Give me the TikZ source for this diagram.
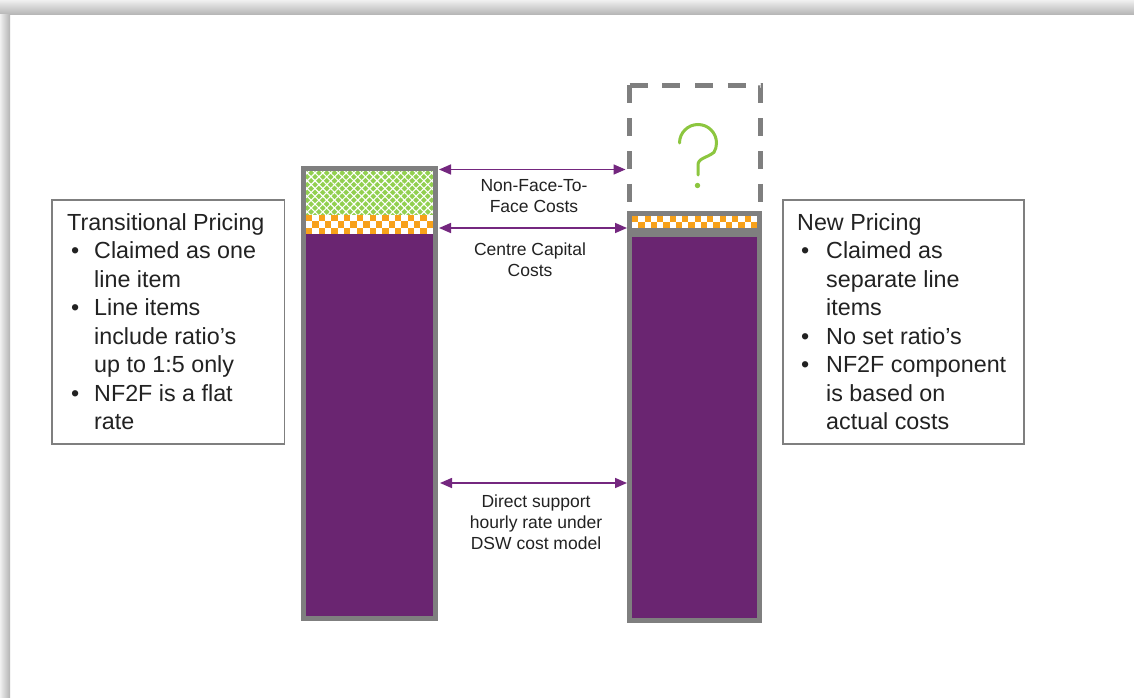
\documentclass[tikz,border=0pt]{standalone}
\usepackage{fontspec}
\setmainfont{Liberation Sans}
\usetikzlibrary{arrows.meta,patterns.meta}
\definecolor{barpurple}{HTML}{6A2571}
\definecolor{arrpurple}{HTML}{74277F}
\definecolor{bordergray}{HTML}{7F7F7F}
\definecolor{hatchgreen}{HTML}{92D050}
\definecolor{chkorange}{HTML}{F7A11A}
\definecolor{qgreen}{HTML}{8CC63F}
\definecolor{txt}{HTML}{222222}
\begin{document}
\begin{tikzpicture}[x=1pt,y=-1pt,
  bigtxt/.style={font=\fontsize{23.3}{28.5}\selectfont, text=txt, inner sep=0pt, anchor=base west},
  smalltxt/.style={font=\fontsize{17.5}{21}\selectfont, text=txt, inner sep=0pt, anchor=base},
  arr/.style={draw=arrpurple, line width=1.6pt, {Triangle[length=12pt,width=10pt]}-{Triangle[length=12pt,width=10pt]}},
  infobox/.style={draw=bordergray, line width=1.5pt},
  barborder/.style={draw=bordergray, line width=5pt},
  dashbox/.style={draw=bordergray, line width=5pt, dash pattern=on 18pt off 14.75pt},
]
\useasboundingbox (0,0) rectangle (1134,698);
\fill[white] (0,0) rectangle (1134,698);
% slide shadow
\shade[top color=gray!12, bottom color=gray!60] (0,0) rectangle (1134,15);
\shade[left color=gray!12, right color=gray!60] (0,15) rectangle (10,698);

% ---------- left bar ----------
\fill[barpurple] (306,234) rectangle (433,616);
\fill[hatchgreen] (306,171) rectangle (433,215);
\fill[pattern={Lines[angle=45,distance=5.5pt,line width=1.1pt]}, pattern color=white] (306,171) rectangle (433,215);
\fill[pattern={Lines[angle=-45,distance=5.5pt,line width=1.1pt]}, pattern color=white] (306,171) rectangle (433,215);
\fill[white] (306,215) rectangle (433,234);
\foreach \i in {0,...,19}{\foreach \j in {0,1,2}{
  \pgfmathtruncatemacro\k{mod(\i+\j,2)}
  \ifnum\k=0 \fill[chkorange] ({306+\i*6.35},{215+\j*6.33}) rectangle ++(6.35,6.33); \fi}}
\draw[barborder] (303.5,168.5) rectangle (435.5,618.5);

% ---------- right bar ----------
\fill[barpurple] (632,237) rectangle (757,618);
\fill[bordergray] (632,228) rectangle (757,237);
\fill[white] (632,216) rectangle (757,228);
\foreach \i in {0,...,19}{\foreach \j in {0,1}{
  \pgfmathtruncatemacro\k{mod(\i+\j,2)}
  \ifnum\k=0 \fill[chkorange] ({632+\i*6.25},{216+\j*6}) rectangle ++(6.25,6); \fi}}
\draw[barborder] (629.5,213.5) rectangle (759.5,620.5);
\draw[dashbox] (629.5,85.5) -- (629.5,211);
\draw[dashbox] (629.5,85.5) -- (760.5,85.5) -- (760.5,211);
% question mark
\draw[qgreen, line width=3pt, line cap=round] (679.5,143) arc[start angle=180,end angle=-30,radius=18.5pt]
   .. controls (707,158) and (698,158) .. (698,165) -- (698,175);
\fill[qgreen] (697.5,185.5) circle[radius=2.7pt];

% ---------- arrows ----------
\coordinate (a1l) at (439,169.5); \coordinate (a1r) at (625.5,169.5);
\coordinate (a2l) at (439,228);   \coordinate (a2r) at (627,228);
\coordinate (a3l) at (440,483);   \coordinate (a3r) at (627,483);
\draw[arr] (a1l) -- (a1r);
\draw[arr] (a2l) -- (a2r);
\draw[arr] (a3l) -- (a3r);

% ---------- middle labels ----------
\node[smalltxt] (lnf) at (534,191.5) {\begin{tabular}[t]{@{}c@{}}Non-Face-To-\\Face Costs\end{tabular}};
\node[smalltxt] (lcc) at (530,255) {\begin{tabular}[t]{@{}c@{}}Centre Capital\\Costs\end{tabular}};
\node[smalltxt] (lds) at (536,507) {\begin{tabular}[t]{@{}c@{}}Direct support\\hourly rate under\\DSW cost model\end{tabular}};

% ---------- info boxes ----------
\draw[infobox] (52,200) rectangle (284.5,444);
\node[bigtxt] (ltp) at (67,230) {\begin{tabular}[t]{@{}l@{}l@{}}
\multicolumn{2}{@{}l@{}}{Transitional Pricing}\\
\makebox[27pt][l]{\,\textbullet} & Claimed as one\\
 & line item\\
\makebox[27pt][l]{\,\textbullet} & Line items\\
 & include ratio’s\\
 & up to 1:5 only\\
\makebox[27pt][l]{\,\textbullet} & NF2F is a flat\\
 & rate
\end{tabular}};

\draw[infobox] (783,200) rectangle (1024,444);
\node[bigtxt] (rnp) at (797,230) {\begin{tabular}[t]{@{}l@{}l@{}}
\multicolumn{2}{@{}l@{}}{New Pricing}\\
\makebox[29pt][l]{\,\textbullet} & Claimed as\\
 & separate line\\
 & items\\
\makebox[29pt][l]{\,\textbullet} & No set ratio’s\\
\makebox[29pt][l]{\,\textbullet} & NF2F component\\
 & is based on\\
 & actual costs
\end{tabular}};
\end{tikzpicture}
\end{document}
